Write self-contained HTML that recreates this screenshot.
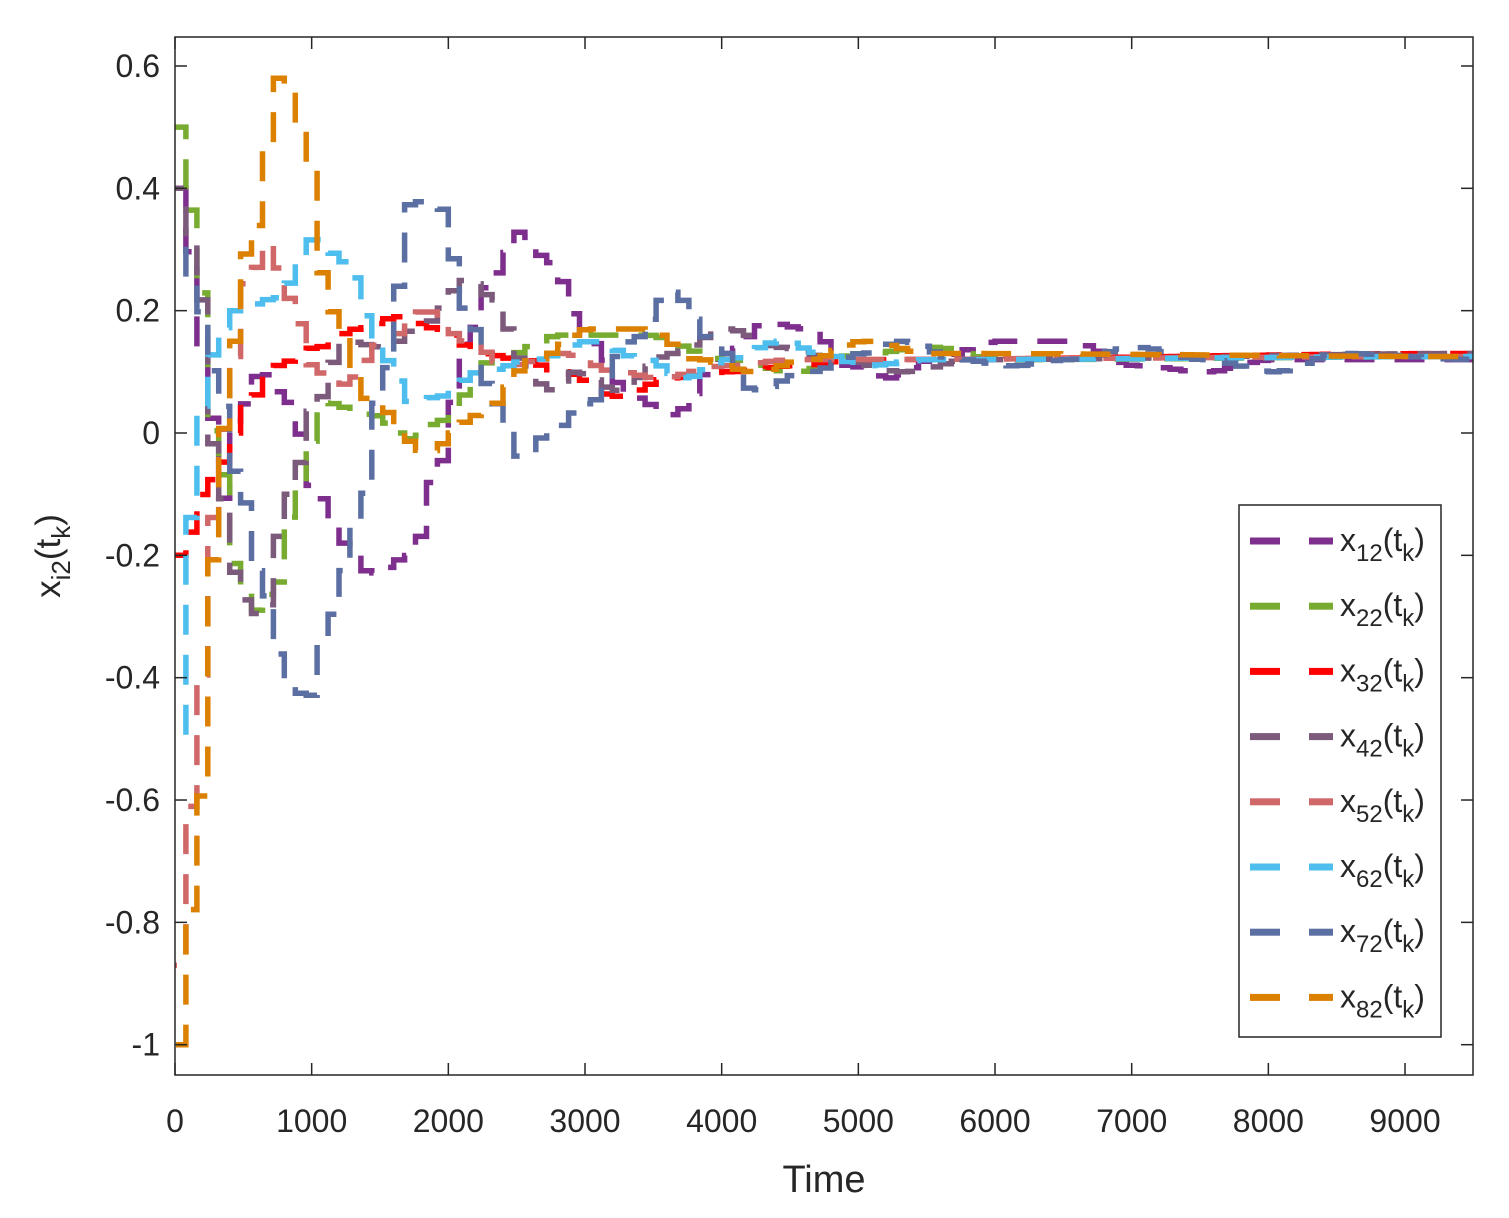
<!DOCTYPE html>
<html><head><meta charset="utf-8"><style>
body{margin:0;background:#fff}
svg{display:block;font-family:"Liberation Sans",sans-serif}
</style></head><body>
<svg id="s" width="1509" height="1218" xmlns="http://www.w3.org/2000/svg">
<rect x="0" y="0" width="1509" height="1218" fill="#fff"/>
<g id="plot"></g>
<rect x="175" y="37" width="1298" height="1038" fill="none" stroke="#262626" stroke-width="1.5"/>
<g id="ticks" stroke="#262626" stroke-width="1.5"></g>
<g id="labels" fill="#262626" font-size="32"></g>
<text x="824" y="1192" font-size="38" text-anchor="middle" fill="#262626">Time</text>
<text transform="translate(60,556) rotate(-90)" font-size="35" text-anchor="middle" fill="#262626">x<tspan font-size="26" dy="10">i2</tspan><tspan dy="-10">(t</tspan><tspan font-size="26" dy="10">k</tspan><tspan dy="-10">)</tspan></text>
<rect x="1239" y="505" width="202" height="532" fill="#fff" stroke="#262626" stroke-width="1.5"/>
<g id="legend"></g>
</svg>
<script>
const X=t=>175+t*0.13667, Y=v=>433-v*611.7;
const ns="http://www.w3.org/2000/svg";
function el(p,n,a,txt){const e=document.createElementNS(ns,n);for(const k in a)e.setAttribute(k,a[k]);if(txt!==undefined)e.textContent=txt;document.getElementById(p).appendChild(e);return e;}
for(let t=0;t<=9000;t+=1000){const x=X(t);el("ticks","line",{x1:x,y1:1075,x2:x,y2:1063});el("ticks","line",{x1:x,y1:37,x2:x,y2:49});
el("labels","text",{x:x,y:1132,"text-anchor":"middle"},String(t));}
for(let i=-5;i<=3;i++){const v=i*0.2,y=Y(v);el("ticks","line",{x1:175,y1:y,x2:187,y2:y});el("ticks","line",{x1:1473,y1:y,x2:1461,y2:y});
let s=(Math.abs(v)<1e-9)?"0":(v===-1?"-1":v.toFixed(1));
el("labels","text",{x:160,y:y+11,"text-anchor":"end"},s);}
const S=[
["#7E2F8E","12",[[0,0.4],[200,0.1],[300,-0.12],[400,0.02],[600,0.1],[800,0.05],[1000,-0.1],[1200,-0.18],[1400,-0.23],[1700,-0.2],[1900,-0.05],[2100,0.15],[2300,0.26],[2500,0.33],[2700,0.28],[3000,0.15],[3300,0.06],[3600,0.03],[4000,0.13],[4300,0.18],[4600,0.17],[4900,0.11],[5200,0.09],[5500,0.12],[6000,0.15],[6500,0.15],[7000,0.11],[7500,0.1],[8000,0.12],[9500,0.12]]],
["#77AC30","22",[[0,0.5],[100,0.35],[250,0],[450,-0.25],[550,-0.29],[700,-0.25],[850,-0.1],[1050,0.05],[1400,0.03],[1700,-0.01],[1900,0.02],[2300,0.12],[2800,0.16],[3400,0.16],[4000,0.12],[4500,0.1],[5000,0.13],[5500,0.14],[6000,0.12],[9500,0.125]]],
["#FF0000","32",[[0,-0.2],[200,-0.09],[300,-0.05],[500,0.05],[700,0.11],[1000,0.14],[1300,0.17],[1600,0.19],[1900,0.17],[2200,0.13],[2500,0.12],[2800,0.1],[3200,0.06],[3600,0.09],[4000,0.1],[4500,0.11],[5000,0.12],[9500,0.13]]],
["#7B5A7B","42",[[0,0.4],[100,0.3],[300,-0.1],[450,-0.27],[600,-0.3],[800,-0.1],[1000,0.05],[1200,0.15],[1500,0.14],[1800,0.18],[2100,0.25],[2300,0.22],[2500,0.12],[2700,0.07],[2900,0.1],[3200,0.07],[3600,0.13],[4000,0.17],[4400,0.14],[4800,0.12],[5300,0.1],[5800,0.12],[9500,0.13]]],
["#D0686A","52",[[0,-0.87],[150,-0.4],[300,0],[500,0.25],[650,0.31],[800,0.22],[1000,0.1],[1200,0.08],[1500,0.15],[1800,0.2],[2100,0.15],[2400,0.11],[2800,0.13],[3200,0.1],[3500,0.09],[4000,0.11],[4500,0.12],[9500,0.125]]],
["#4DBEEE","62",[[0,-0.5],[100,-0.1],[200,0.12],[400,0.2],[700,0.22],[1000,0.32],[1200,0.28],[1500,0.12],[1700,0.05],[1900,0.06],[2200,0.1],[2600,0.12],[3000,0.15],[3400,0.12],[3700,0.09],[4000,0.12],[4400,0.15],[4700,0.13],[5000,0.11],[5500,0.12],[9500,0.125]]],
["#5B6FA3","72",[[0,0.3],[150,0.2],[300,0.05],[450,-0.1],[600,-0.25],[800,-0.42],[950,-0.43],[1100,-0.3],[1300,-0.15],[1500,0.1],[1700,0.38],[1900,0.37],[2100,0.2],[2300,0.05],[2500,-0.04],[2700,0],[3000,0.05],[3300,0.15],[3600,0.23],[3900,0.15],[4200,0.07],[4600,0.1],[5000,0.13],[5300,0.15],[5700,0.12],[6100,0.11],[6500,0.12],[7000,0.14],[7500,0.12],[8000,0.1],[8500,0.13],[9500,0.12]]],
["#DB8000","82",[[0,-1],[150,-0.6],[300,0],[500,0.3],[750,0.59],[900,0.5],[1100,0.2],[1400,0.05],[1800,-0.03],[2200,0.03],[2600,0.12],[3000,0.17],[3400,0.17],[3800,0.12],[4200,0.1],[4600,0.12],[5000,0.15],[5500,0.13],[9500,0.125]]]];
function interp(p,t){for(let i=1;i<p.length;i++){if(t<=p[i][0]){const a=p[i-1],b=p[i];const f=(t-a[0])/(b[0]-a[0]);const g=(1-Math.cos(f*Math.PI))/2;return a[1]+(b[1]-a[1])*g;}}return p[p.length-1][1];}
S.forEach((s,k)=>{let d="",step=80;let prev=null;
for(let t=0;t<=9500;t+=step){const v=interp(s[2],t);const x=X(t),y=Y(v);
if(prev===null)d+=`M${x.toFixed(1)},${y.toFixed(1)}`;else d+=`V${y.toFixed(1)}`;
const x2=X(Math.min(t+step,9500));d+=`H${x2.toFixed(1)}`;prev=v;}
el("plot","path",{d:d,fill:"none",stroke:s[0],"stroke-width":5.5,"stroke-dasharray":"30 20","stroke-dashoffset":k*7});
const ly=541+k*65.2;
el("legend","rect",{x:1250,y:ly-3.5,width:30,height:7,fill:s[0]});
el("legend","rect",{x:1309,y:ly-3.5,width:24,height:7,fill:s[0]});
const tx=el("legend","text",{x:1340,y:ly+10,"font-size":32,fill:"#262626"});
tx.innerHTML=`x<tspan font-size="24" dy="10">${s[1]}</tspan><tspan dy="-10">(t</tspan><tspan font-size="24" dy="10">k</tspan><tspan dy="-10">)</tspan>`;
});
</script>
</body></html>
